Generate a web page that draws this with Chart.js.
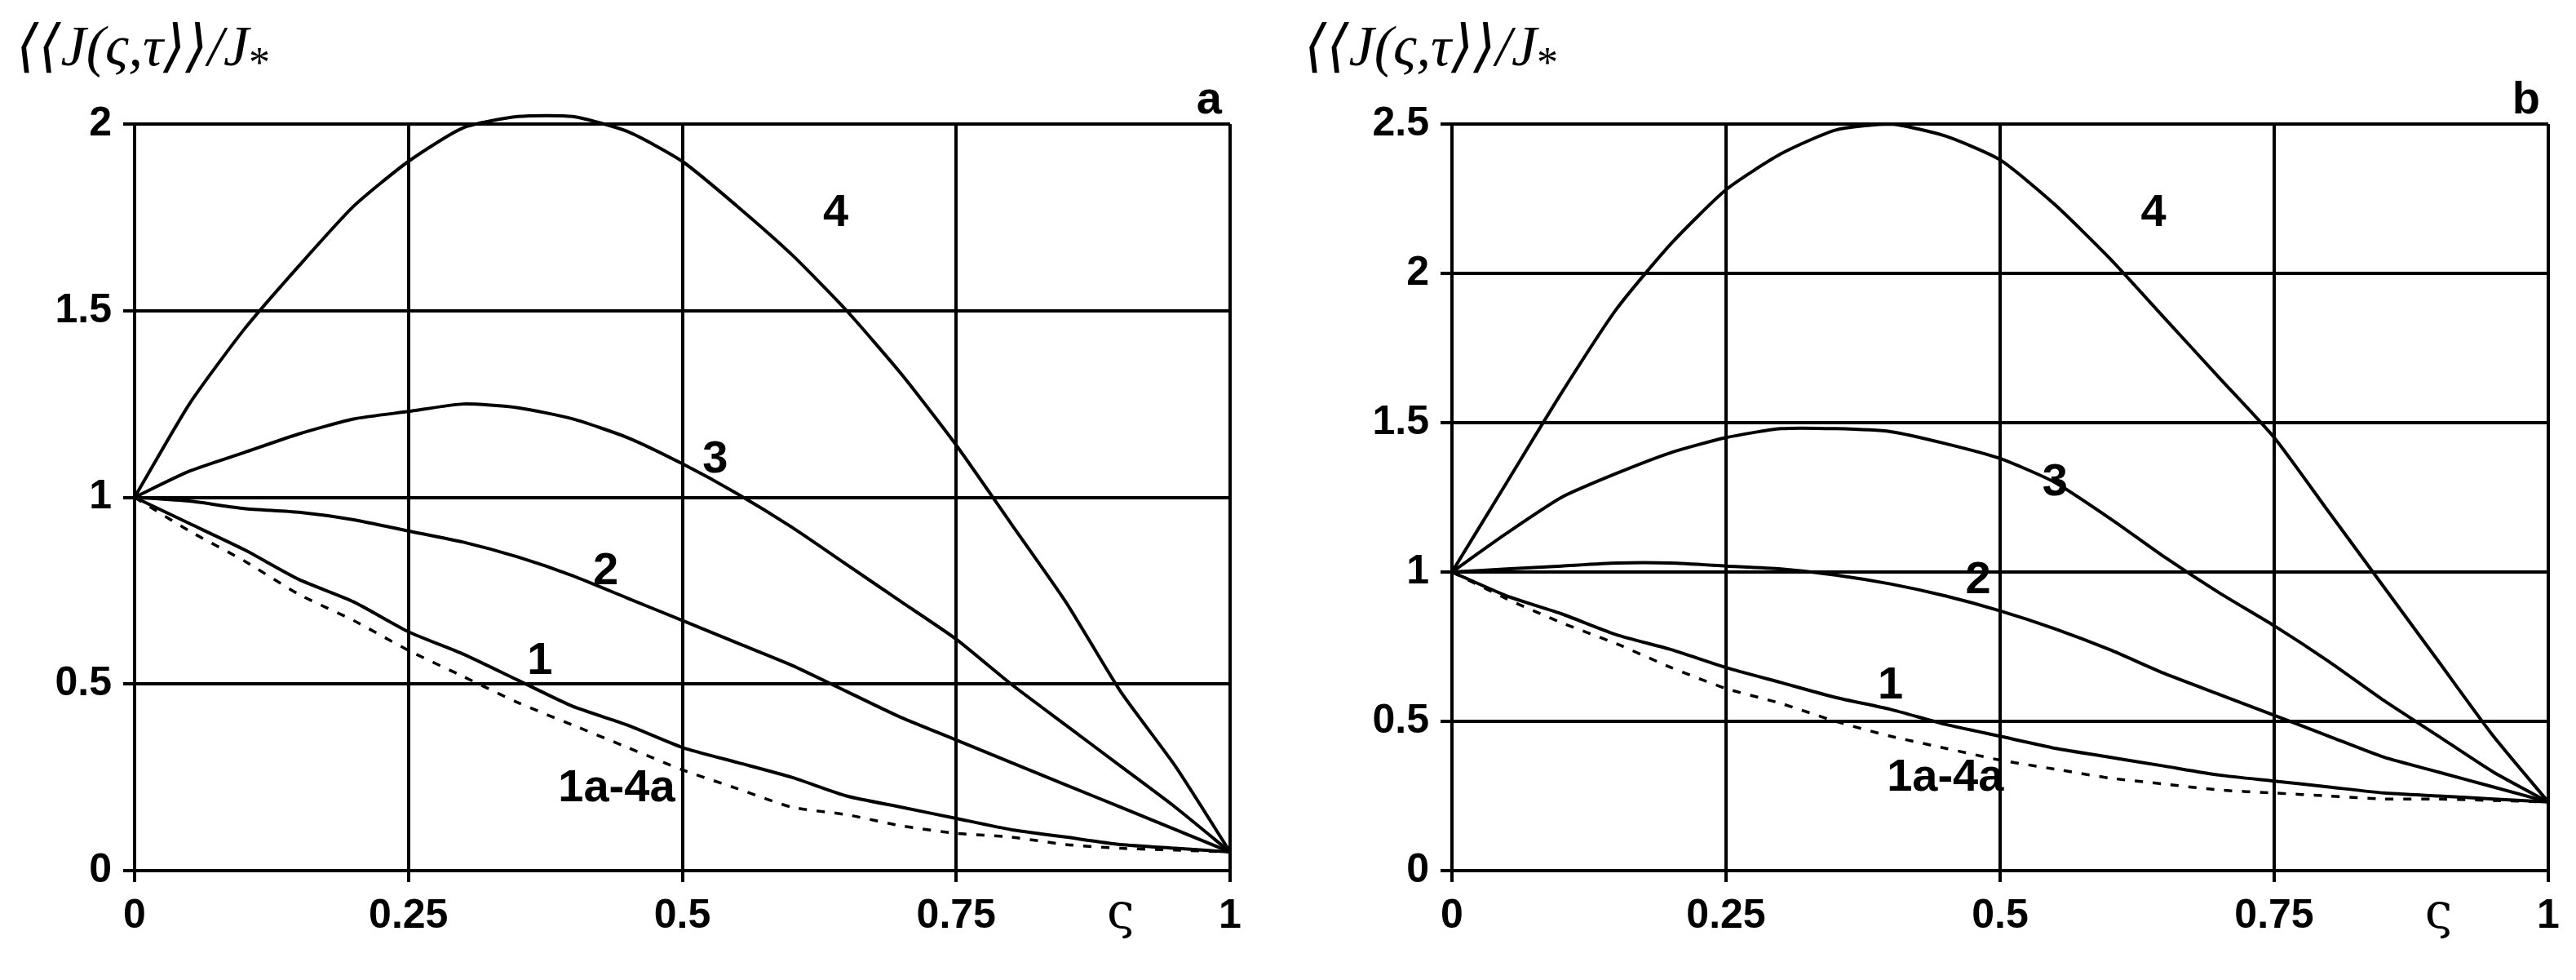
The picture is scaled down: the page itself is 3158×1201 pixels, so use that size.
<!DOCTYPE html>
<html>
<head>
<meta charset="utf-8">
<script src="https://cdn.jsdelivr.net/npm/chart.js@4"></script>
<style>
  body { margin: 0; background: #fff; width: 3158px; height: 1201px; position: relative; overflow: hidden; }
  .box { position: absolute; top: 0; width: 1579px; height: 1201px; }
</style>
</head>
<body>
<div class="box" style="left:0"><canvas id="chartA"></canvas></div>
<div class="box" style="left:1579px"><canvas id="chartB"></canvas></div>
<script>
// x positions (ς)
const xs = [0, 0.05, 0.1, 0.15, 0.2, 0.25, 0.3, 0.35, 0.4, 0.45, 0.5, 0.55, 0.6, 0.65, 0.7, 0.75, 0.8, 0.85, 0.9, 0.95, 1];

// panel a
const a4 = [1, 1.25, 1.45, 1.62, 1.78, 1.9, 1.99, 2.02, 2.02, 1.98, 1.9, 1.78, 1.65, 1.5, 1.33, 1.14, 0.93, 0.72, 0.48, 0.28, 0.05];
const a3 = [1, 1.07, 1.12, 1.17, 1.21, 1.23, 1.25, 1.24, 1.21, 1.16, 1.09, 1.01, 0.92, 0.82, 0.72, 0.62, 0.5, 0.39, 0.28, 0.17, 0.05];
const a2 = [1, 0.99, 0.97, 0.96, 0.94, 0.91, 0.88, 0.84, 0.79, 0.73, 0.67, 0.61, 0.55, 0.48, 0.41, 0.35, 0.29, 0.23, 0.17, 0.11, 0.05];
const a1 = [1, 0.93, 0.86, 0.78, 0.72, 0.64, 0.58, 0.51, 0.44, 0.39, 0.33, 0.29, 0.25, 0.2, 0.17, 0.14, 0.11, 0.09, 0.07, 0.06, 0.05];
const aDash = [1, 0.91, 0.83, 0.74, 0.67, 0.59, 0.52, 0.45, 0.39, 0.33, 0.27, 0.22, 0.17, 0.15, 0.12, 0.1, 0.09, 0.07, 0.06, 0.055, 0.05];

// panel b
const b4 = [1, 1.3, 1.6, 1.88, 2.1, 2.28, 2.4, 2.48, 2.5, 2.46, 2.38, 2.23, 2.05, 1.85, 1.65, 1.45, 1.2, 0.95, 0.7, 0.45, 0.23];
const b3 = [1, 1.13, 1.25, 1.33, 1.4, 1.45, 1.48, 1.48, 1.47, 1.43, 1.38, 1.3, 1.18, 1.05, 0.93, 0.82, 0.7, 0.57, 0.45, 0.33, 0.23];
const b2 = [1, 1.01, 1.02, 1.03, 1.03, 1.02, 1.01, 0.99, 0.96, 0.92, 0.87, 0.81, 0.74, 0.66, 0.59, 0.52, 0.45, 0.38, 0.33, 0.28, 0.23];
const b1 = [1, 0.92, 0.86, 0.79, 0.74, 0.68, 0.63, 0.58, 0.54, 0.49, 0.45, 0.41, 0.38, 0.35, 0.32, 0.3, 0.28, 0.26, 0.25, 0.24, 0.23];
const bDash = [1, 0.91, 0.83, 0.76, 0.68, 0.61, 0.56, 0.5, 0.45, 0.41, 0.37, 0.34, 0.31, 0.29, 0.27, 0.26, 0.25, 0.24, 0.24, 0.235, 0.23];

// curve labels: [text, x, y]
const labelsA = [['4', 0.64, 1.76], ['3', 0.53, 1.1], ['2', 0.43, 0.8], ['1', 0.37, 0.56], ['1a-4a', 0.44, 0.22]];
const labelsB = [['4', 0.64, 2.2], ['3', 0.55, 1.3], ['2', 0.48, 0.97], ['1', 0.4, 0.62], ['1a-4a', 0.45, 0.31]];

const pts = ys => xs.map((x, i) => ({ x: x, y: ys[i] }));
const tickFont = { family: 'Liberation Sans Narrow, Liberation Sans, Arial', size: 50, weight: 'bold' };

const decor = {
  id: 'decor',
  afterDraw(chart, args, opts) {
    const ctx = chart.ctx, sx = chart.scales.x, sy = chart.scales.y, ca = chart.chartArea;
    ctx.save();
    ctx.fillStyle = '#000';
    ctx.font = 'bold 56px Liberation Sans Narrow, Liberation Sans, Arial';
    ctx.textAlign = 'center';
    ctx.textBaseline = 'middle';
    opts.labels.forEach(l => ctx.fillText(l[0], sx.getPixelForValue(l[1]), sy.getPixelForValue(l[2])));
    ctx.textAlign = 'right';
    ctx.fillText(opts.letter, ca.right - 10, ca.top - 28);
    // axis name ς
    ctx.font = '60px DejaVu Serif';
    ctx.textAlign = 'center';
    ctx.fillText('ς', sx.getPixelForValue(0.9), ca.bottom + 55);
    // y title
    ctx.textAlign = 'left';
    ctx.font = 'italic 70px Liberation Serif, DejaVu Serif';
    const t = '⟨⟨J(ς,τ⟩⟩/J';
    ctx.fillText(t, 20, 62);
    const w = ctx.measureText(t).width;
    ctx.font = '52px Liberation Serif, DejaVu Serif';
    ctx.fillText('*', 20 + w, 80);
    ctx.restore();
  }
};

function makeChart(id, data, yMax, labels, letter, yWidth, padRight) {
  const sets = data.map((d, i) => ({
    data: pts(d),
    borderColor: '#000',
    borderWidth: i === 4 ? 3.5 : 4,
    borderDash: i === 4 ? [10, 12] : [],
    pointRadius: 0,
    tension: 0.2,
    clip: false
  }));
  new Chart(document.getElementById(id), {
    type: 'line',
    data: { datasets: sets },
    plugins: [decor],
    options: {
      responsive: true,
      maintainAspectRatio: false,
      animation: false,
      layout: { padding: { top: 152, right: padRight, left: 0, bottom: 0 } },
      plugins: { legend: { display: false }, tooltip: { enabled: false }, decor: { labels: labels, letter: letter } },
      scales: {
        x: {
          type: 'linear', min: 0, max: 1,
          ticks: { stepSize: 0.25, color: '#000', font: tickFont, padding: 12, callback: v => String(v) },
          grid: { color: '#000', lineWidth: 4, tickLength: 14 },
          border: { color: '#000', width: 4 },
          afterFit: s => { s.height = 134; }
        },
        y: {
          min: 0, max: yMax,
          ticks: { stepSize: 0.5, color: '#000', font: tickFont, padding: 14, callback: v => String(v) },
          grid: { color: '#000', lineWidth: 4, tickLength: 14 },
          border: { color: '#000', width: 4 },
          afterFit: s => { s.width = yWidth; }
        }
      }
    }
  });
}

makeChart('chartA', [a4, a3, a2, a1, aDash], 2, labelsA, 'a', 165, 71);
makeChart('chartB', [b4, b3, b2, b1, bDash], 2.5, labelsB, 'b', 201, 34);
</script>
</body>
</html>
